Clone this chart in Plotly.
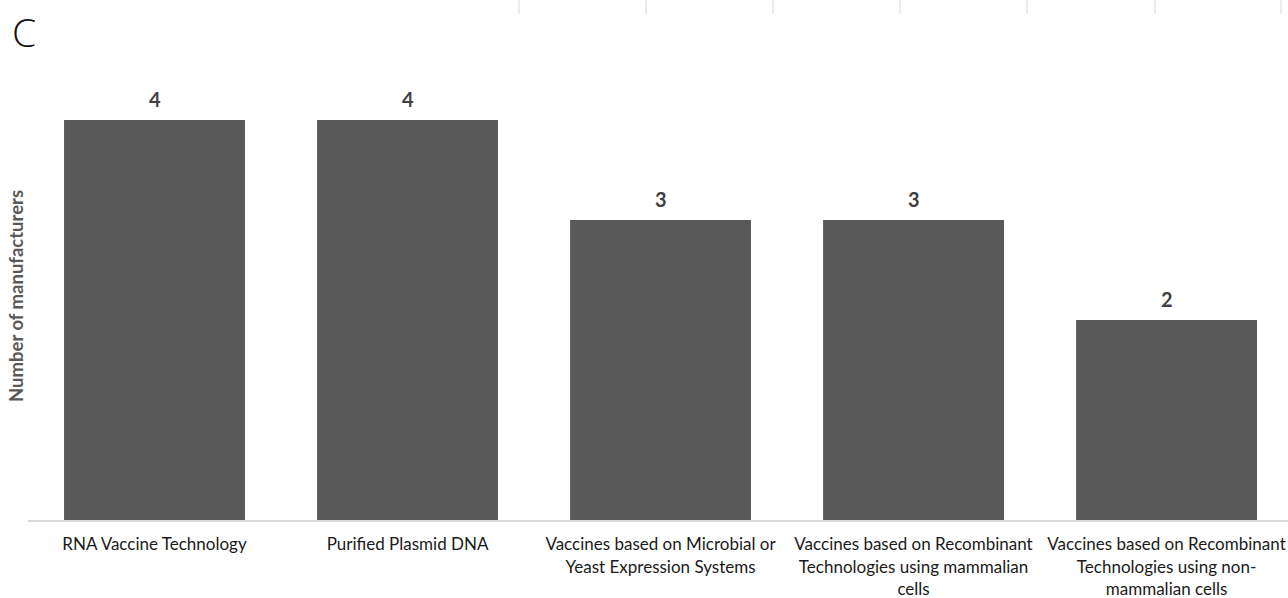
import plotly.graph_objects as go

categories = [
    "RNA Vaccine Technology",
    "Purified Plasmid DNA",
    "Vaccines based on Microbial or<br>Yeast Expression Systems",
    "Vaccines based on Recombinant<br>Technologies using mammalian<br>cells",
    "Vaccines based on Recombinant<br>Technologies using non-<br>mammalian cells",
]
manufacturers = [4, 4, 3, 3, 2]

BAR_COLOR = "#595959"
LABEL_FONT = "Lato, 'Open Sans', sans-serif"

# plot area in pixels
W, H = 1288, 598
L, R, T, B = 28, 0, 38, 78
PW, PH = W - L - R, H - T - B


def px_x(x):
    return (x - L) / PW


def px_y(y):
    return (H - B - y) / PH


fig = go.Figure()
fig.add_trace(go.Bar(
    x=list(range(len(categories))),
    y=manufacturers,
    marker=dict(color=BAR_COLOR, line=dict(width=0)),
    hoverinfo="skip",
))

# value labels above each bar
for i, v in enumerate(manufacturers):
    fig.add_annotation(
        x=i, y=v, xref="x", yref="y", text=f"<b>{v}</b>",
        showarrow=False, yanchor="bottom", yshift=7,
        font=dict(family=LABEL_FONT, size=20, color="#404040"),
    )

# panel letter
fig.add_annotation(
    x=px_x(10), y=px_y(3), xref="paper", yref="paper",
    xanchor="left", yanchor="top", text="C", showarrow=False,
    font=dict(family="'Open Sans', sans-serif", size=39, color="#111111",
              weight=300),
)

# y axis title
fig.add_annotation(
    x=px_x(16), y=px_y(296), xref="paper", yref="paper",
    text="<b>Number of manufacturers</b>",
    showarrow=False, textangle=-90, xanchor="center", yanchor="middle",
    font=dict(family=LABEL_FONT, size=18.5, color="#595959"),
)

# short light grey ticks along the top edge
for xp in [519, 646, 773, 900, 1027, 1155, 1281]:
    fig.add_shape(
        type="line", xref="paper", yref="paper",
        x0=px_x(xp), x1=px_x(xp), y0=px_y(14), y1=px_y(0),
        line=dict(color="#d9d9d9", width=1),
    )

fig.update_layout(
    width=W, height=H,
    margin=dict(l=L, r=R, t=T, b=B, pad=0),
    paper_bgcolor="white", plot_bgcolor="white",
    bargap=0.285, showlegend=False,
    xaxis=dict(
        range=[-0.5, 4.48], tickmode="array",
        tickvals=list(range(len(categories))), ticktext=categories,
        showline=True, linecolor="#d9d9d9", linewidth=2,
        showgrid=False, zeroline=False, ticks="",
        tickfont=dict(family=LABEL_FONT, size=17, color="#1a1a1a"),
        ticklabelstandoff=8,
    ),
    yaxis=dict(
        range=[0, 4.82], showticklabels=False, showgrid=False,
        zeroline=False, showline=False, ticks="",
    ),
)

fig.write_html("out.html")
